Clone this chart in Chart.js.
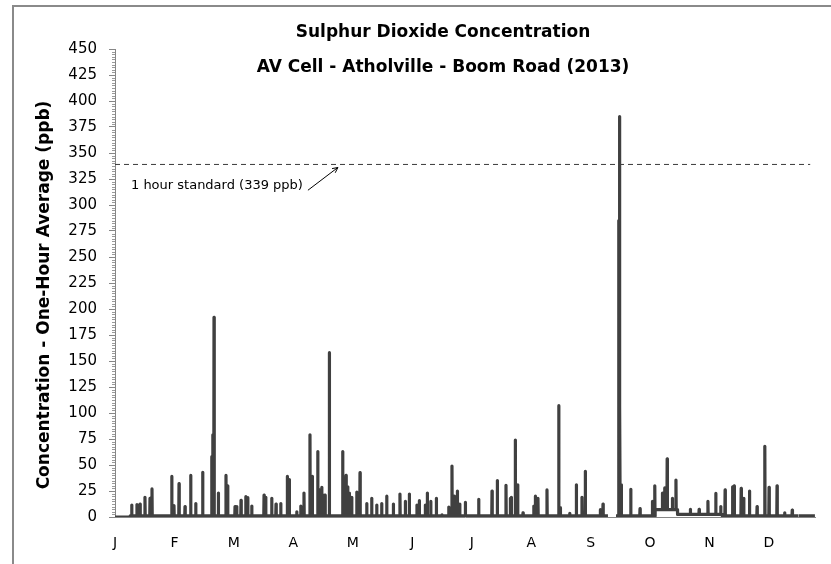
<!DOCTYPE html>
<html lang="en">
<head>
<meta charset="UTF-8">
<title>Sulphur Dioxide Concentration - Atholville</title>
<script src="https://cdn.jsdelivr.net/npm/chart.js@4.4.0/dist/chart.umd.min.js"></script>
<style>
  body { margin: 0; background: #fff; }
  #wrap { position: relative; width: 831px; height: 564px; overflow: hidden; }
  #frame { position: absolute; left: 12px; top: 5px; width: 900px; height: 700px;
           border: 2px solid #8a8a8a; pointer-events: none; }
  canvas { position: absolute; left: 0; top: 0; }
</style>
</head>
<body>
<div id="wrap">
  <div id="frame"></div>
  <canvas id="graphCanvas" width="831" height="564"></canvas>
</div>
<script>
// hour of year (0..8760) and one-hour average (ppb) of the main peaks
var peakHour = [209, 275, 313, 375, 438, 463, 710, 738, 801, 876, 947, 1010, 1097,
  1210, 1223, 1239, 1293, 1389, 1410, 1502, 1523, 1577, 1636, 1661, 1711, 1865, 1886,
  1961, 2015, 2074, 2156, 2181, 2274, 2324, 2365, 2440, 2469, 2537, 2557, 2587, 2607,
  2628, 2682, 2849, 2891, 2912, 2932, 2962, 3025, 3066, 3150, 3212, 3275, 3337, 3400,
  3483, 3566, 3633, 3683, 3779, 3808, 3883, 3908, 3951, 4021, 4092, 4176, 4217, 4246,
  4284, 4314, 4384, 4551, 4718, 4784, 4893, 4947, 4959, 5009, 5039, 5106, 5240, 5260,
  5293, 5406, 5553, 5573, 5690, 5773, 5844, 5885, 6073, 6107, 6303, 6311, 6319, 6336,
  6454, 6570, 6725, 6755, 6850, 6880, 6910, 6975, 7020, 7200, 7310, 7420, 7518, 7580,
  7635, 7728, 7748, 7836, 7868, 7940, 8035, 8132, 8185, 8285, 8380, 8475, 8550];
var peakPpb = [11.5, 12, 12.5, 19, 18, 27, 39, 11, 32, 10, 40, 13, 43,
  58, 79, 192, 23, 40, 30, 10, 10, 16, 19.5, 18.6, 10.6, 21, 19,
  18, 12.5, 13, 39, 36, 5, 10.6, 23, 79, 39, 63, 26, 28.5, 21,
  21, 158, 63, 40, 29, 23, 19, 24, 42.6, 13, 18, 11.5, 13, 20,
  12.5, 22, 15, 22, 11.5, 15.7, 11.5, 23, 15, 18, 2, 9.6, 49, 20,
  25, 12.5, 14, 17, 25, 35, 30.5, 18, 19, 74, 31, 4, 10.6, 20,
  18, 26, 107, 9, 3.5, 31, 19, 44, 7, 12.5, 285, 385, 106, 31,
  26.6, 8, 15, 30, 23, 28, 56, 18, 35.6, 7.4, 7.4, 15, 22.7, 10,
  26, 29, 30, 27.5, 18, 25, 10, 68, 28.5, 30, 4, 6.7];

// background level between peaks: from baseHour[i] to baseHour[i+1]
var baseHour  = [0, 190, 6170, 6270, 6760, 7040, 7600, 8760];
var baseLevel = [0, 1, null, 1, 7, 2.5, 1];

var monthHour  = [0, 744, 1488, 2232, 2976, 3720, 4464, 5208, 5952, 6696, 7440, 8184];
var monthLabel = ['J', 'F', 'M', 'A', 'M', 'J', 'J', 'A', 'S', 'O', 'N', 'D'];

var standardPpb = 339;
var titleLines = ['Sulphur Dioxide Concentration', 'AV Cell - Atholville - Boom Road (2013)'];
var yTitle = 'Concentration - One-Hour Average (ppb)';

function baseAt(h) {
    for (var i = baseHour.length - 2; i >= 0; i--) {
        if (h >= baseHour[i]) return baseLevel[i];
    }
    return baseLevel[0];
}

var series = [];
for (var i = 0; i < baseHour.length - 1; i++) {
    series.push({x: baseHour[i], y: baseLevel[i]});
    series.push({x: baseHour[i + 1] - 1, y: baseLevel[i]});
}
for (var i in peakHour) {
    var b = baseAt(peakHour[i]);
    series.push({x: peakHour[i] - 3, y: b});
    series.push({x: peakHour[i], y: peakPpb[i]});
    series.push({x: peakHour[i] + 3, y: b});
}
series.sort(function (a, b) { return a.x - b.x; });

var FONT = "'DejaVu Sans', sans-serif";

// title, axis title, minor ticks, standard label + arrow
var extras = {
    id: 'extras',
    afterDraw: function (chart) {
        var ctx = chart.ctx, area = chart.chartArea;
        var xs = chart.scales.x, ys = chart.scales.y;
        ctx.save();

        // minor ticks on the y axis
        ctx.strokeStyle = '#9a9a9a';
        ctx.lineWidth = 1;
        ctx.beginPath();
        for (var v = 0; v <= 450; v += 2.5) {
            if (v % 25 === 0) continue;
            var py = Math.round(ys.getPixelForValue(v)) + 0.5;
            ctx.moveTo(area.left - 3, py);
            ctx.lineTo(area.left, py);
        }
        ctx.stroke();

        // title
        ctx.fillStyle = '#000';
        ctx.textAlign = 'center';
        ctx.textBaseline = 'middle';
        ctx.font = "bold 17px " + FONT;
        var cx = (area.left + area.right) / 2 - 22;
        ctx.fillText(titleLines[0], cx, 33);
        ctx.fillText(titleLines[1], cx, 68);

        // y axis title
        ctx.save();
        ctx.translate(45, (area.top + area.bottom) / 2 + 12);
        ctx.rotate(-Math.PI / 2);
        ctx.font = "bold 17px " + FONT;
        ctx.fillText(yTitle, 0, 0);
        ctx.restore();

        // 1 hour standard label
        ctx.font = "13px " + FONT;
        ctx.textAlign = 'left';
        var tx = xs.getPixelForValue(200);
        var ty = ys.getPixelForValue(319);
        var label = '1 hour standard (339 ppb)';
        ctx.fillText(label, tx, ty);
        var w = ctx.measureText(label).width;
        var x0 = tx + w + 5, y0 = ty + 5;
        var x1 = x0 + 30, y1 = ys.getPixelForValue(standardPpb) + 3;
        ctx.strokeStyle = '#000';
        ctx.beginPath();
        ctx.moveTo(x0, y0);
        ctx.lineTo(x1, y1);
        var ang = Math.atan2(y1 - y0, x1 - x0);
        ctx.moveTo(x1, y1);
        ctx.lineTo(x1 - 6 * Math.cos(ang - 0.45), y1 - 6 * Math.sin(ang - 0.45));
        ctx.moveTo(x1, y1);
        ctx.lineTo(x1 - 6 * Math.cos(ang + 0.45), y1 - 6 * Math.sin(ang + 0.45));
        ctx.stroke();
        ctx.restore();
    }
};

var graphTarget = document.getElementById('graphCanvas');
var myChart = new Chart(graphTarget, {
    type: 'line',
    data: {
        datasets: [{
            label: 'SO2',
            data: series,
            borderColor: '#404040',
            borderWidth: 3.2,
            borderJoinStyle: 'round',
            pointRadius: 0,
            tension: 0
        }, {
            label: '1 hour standard',
            data: [{x: 0, y: standardPpb}, {x: 8700, y: standardPpb}],
            borderColor: '#3a3a3a',
            borderWidth: 1,
            borderDash: [5, 4],
            pointRadius: 0
        }]
    },
    options: {
        responsive: false,
        animation: false,
        events: [],
        layout: { padding: { left: 0, top: 49, right: 16, bottom: 0 } },
        plugins: { legend: { display: false }, tooltip: { enabled: false } },
        scales: {
            x: {
                type: 'linear',
                min: 0,
                max: 8760,
                afterFit: function (s) { s.height = 47; },
                afterBuildTicks: function (s) {
                    s.ticks = monthHour.map(function (h) { return {value: h}; });
                },
                border: { color: '#868686', width: 1 },
                grid: { display: true, drawOnChartArea: false, drawTicks: false, color: '#868686' },
                ticks: {
                    autoSkip: false,
                    maxRotation: 0,
                    padding: 18,
                    color: '#000',
                    font: { family: FONT, size: 14 },
                    callback: function (v, i) { return monthLabel[i]; }
                }
            },
            y: {
                min: 0,
                max: 450,
                afterFit: function (s) { s.width = 115; },
                border: { color: '#868686', width: 1 },
                grid: { drawOnChartArea: false, tickLength: 6, color: '#868686' },
                ticks: {
                    stepSize: 25,
                    padding: 12,
                    color: '#000',
                    font: { family: FONT, size: 15 }
                }
            }
        }
    },
    plugins: [extras]
});
</script>
</body>
</html>
